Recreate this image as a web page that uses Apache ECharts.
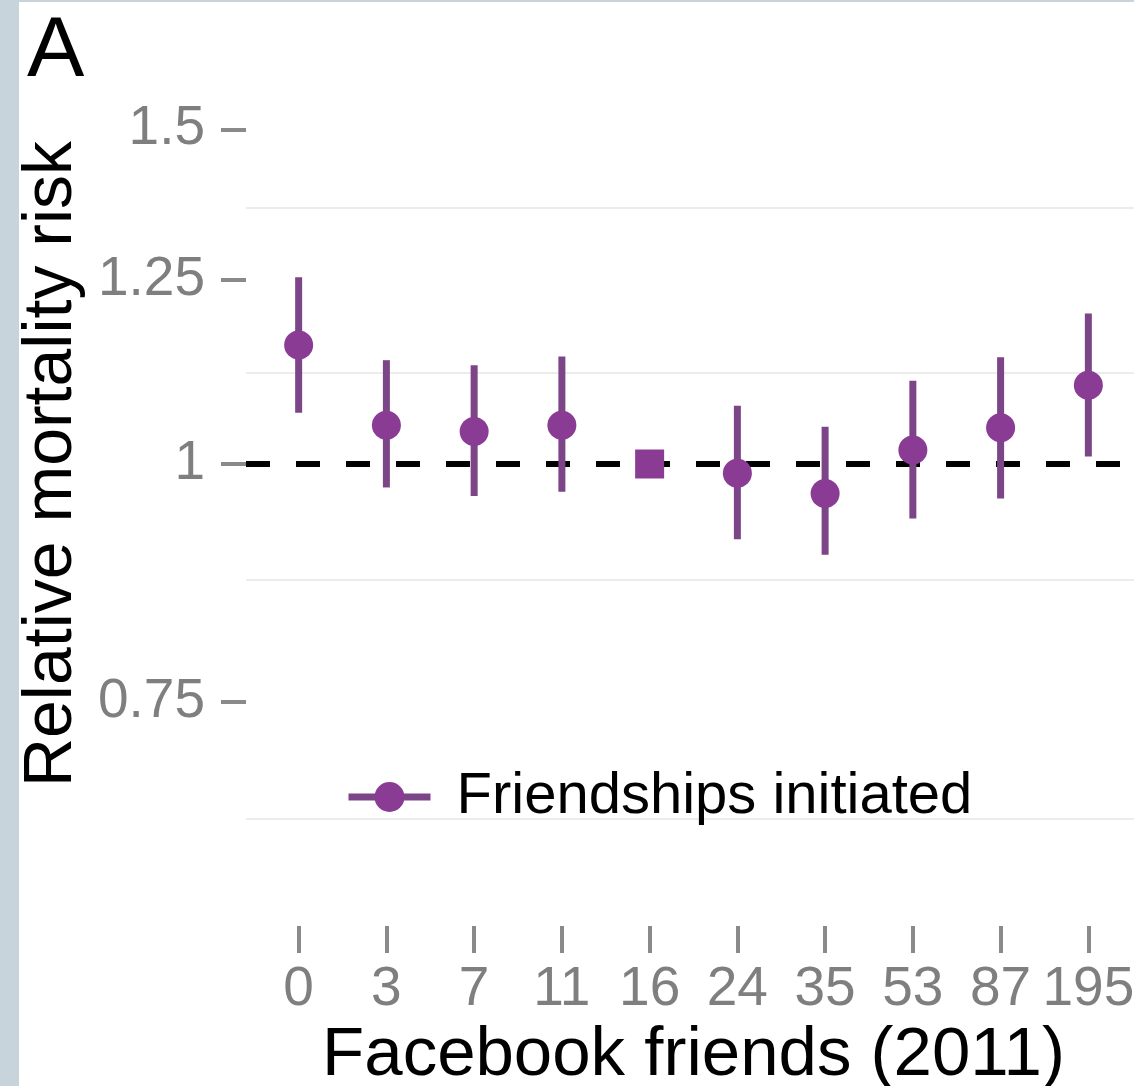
<!DOCTYPE html>
<html>
<head>
<meta charset="utf-8">
<script src="https://cdn.jsdelivr.net/npm/echarts@6/dist/echarts.min.js"></script>
<style>
  html, body { margin: 0; padding: 0; background: #ffffff; }
  #chart { width: 1134px; height: 1086px; }
</style>
</head>
<body>
<div id="chart"></div>
<script>
// Facebook friend-count bins (2011) and relative mortality risk per bin
const friendBins = ['0', '3', '7', '11', '16', '24', '35', '53', '87', '195'];
const riskEstimate = [1.155, 1.048, 1.040, 1.048, 1.0, 0.989, 0.965, 1.017, 1.045, 1.100];
const riskLower = [1.064, 0.972, 0.962, 0.967, null, 0.913, 0.896, 0.936, 0.959, 1.009];
const riskUpper = [1.254, 1.134, 1.127, 1.139, null, 1.073, 1.046, 1.106, 1.138, 1.200];
const referenceBin = '16';
const seriesName = 'Friendships initiated';

// y axis: log scale breaks, faint minor grid values and limits
const yTicks = [0.75, 1, 1.25, 1.5];
const yMinorGrid = [0.652, 0.866, 1.118, 1.369];
const yLimits = [1 / 1.75, 1.75];
const yReference = 1;

const FONT = 'Liberation Sans, Arial, Helvetica, sans-serif';
const POINT_COLOR = '#8a3c94';
const BAR_COLOR = '#7c4587';
const TICK_COLOR = '#8a8a8a';
const LABEL_COLOR = '#7f7f7f';

// risk is plotted on a natural-log scale
const ln = Math.log;
const binPos = friendBins.map((_, i) => i + 1);

const pointData = friendBins.map((bin, i) => {
  const item = { value: [binPos[i], ln(riskEstimate[i])] };
  if (bin === referenceBin) item.symbol = 'rect';
  return item;
});

const intervalData = [];
friendBins.forEach((bin, i) => {
  if (riskLower[i] != null && riskUpper[i] != null) {
    intervalData.push([binPos[i], ln(riskLower[i]), ln(riskUpper[i])]);
  }
});

const chart = echarts.init(document.getElementById('chart'), null, { renderer: 'canvas' });

chart.setOption({
  animation: false,
  backgroundColor: '#ffffff',
  graphic: [
    { type: 'rect', left: 0, top: 0, z: -10, shape: { width: 19, height: 1086 }, style: { fill: '#c8d4dc' } },
    { type: 'rect', left: 0, top: 0, z: -10, shape: { width: 1134, height: 2 }, style: { fill: '#c8d4dc' } }
  ],
  title: {
    text: 'A',
    left: 22,
    top: 4,
    textStyle: { fontFamily: FONT, fontSize: 86, fontWeight: 'normal', color: '#000000' }
  },
  legend: {
    data: [seriesName],
    left: 340,
    top: 762,
    itemWidth: 82,
    itemHeight: 37.5,
    selectedMode: false,
    itemStyle: { color: POINT_COLOR },
    lineStyle: { width: 7, color: BAR_COLOR, opacity: 1, type: 'solid' },
    textStyle: {
      fontFamily: FONT, fontSize: 58, color: '#000000',
      padding: [0, 0, 0, 21], lineHeight: 60
    }
  },
  grid: {
    left: 246,
    right: -7,
    top: 2,
    bottom: 160,
    outerBoundsMode: 'none',
    containLabel: false
  },
  xAxis: {
    type: 'value',
    min: 0.4,
    max: 10.6,
    name: 'Facebook friends (2011)',
    nameLocation: 'middle',
    nameGap: 89,
    nameTextStyle: { fontFamily: FONT, fontSize: 69, color: '#000000' },
    axisLine: { show: false, onZero: false },
    splitLine: { show: false },
    axisTick: {
      show: true,
      length: 27,
      customValues: binPos,
      lineStyle: { color: TICK_COLOR, width: 4 }
    },
    axisLabel: {
      customValues: binPos,
      margin: 36,
      fontFamily: FONT,
      fontSize: 55,
      color: LABEL_COLOR,
      formatter: (v) => friendBins[Math.round(v) - 1]
    }
  },
  yAxis: {
    type: 'value',
    min: ln(yLimits[0]),
    max: ln(yLimits[1]),
    name: 'Relative mortality risk',
    nameLocation: 'middle',
    nameGap: 160,
    nameTextStyle: { fontFamily: FONT, fontSize: 68, color: '#000000' },
    axisLine: { show: false, onZero: false },
    splitLine: { show: false },
    axisTick: {
      show: true,
      length: 25,
      customValues: yTicks.map(ln),
      lineStyle: { color: TICK_COLOR, width: 4 }
    },
    axisLabel: {
      customValues: yTicks.map(ln),
      margin: 41,
      fontFamily: FONT,
      fontSize: 55,
      color: LABEL_COLOR,
      formatter: (v) => {
        const t = yTicks.find((tk) => Math.abs(ln(tk) - v) < 1e-6);
        return t == null ? '' : String(t);
      }
    }
  },
  series: [
    {
      // faint minor grid and the dashed no-difference line
      type: 'line',
      name: 'guides',
      data: [],
      silent: true,
      z: 1,
      markLine: {
        silent: true,
        symbol: ['none', 'none'],
        z: 1,
        label: { show: false },
        emphasis: { disabled: true },
        data: yMinorGrid.map((g) => ({
          yAxis: ln(g),
          lineStyle: { color: '#ececec', width: 2, type: 'solid' }
        })).concat([{
          yAxis: ln(yReference),
          lineStyle: { color: '#000000', width: 6, type: [24, 26] }
        }])
      }
    },
    {
      // confidence intervals
      type: 'custom',
      name: 'interval',
      z: 2,
      silent: true,
      data: intervalData,
      encode: { x: 0, y: [1, 2] },
      renderItem: (params, api) => {
        const x = api.value(0);
        const lo = api.coord([x, api.value(1)]);
        const hi = api.coord([x, api.value(2)]);
        return {
          type: 'line',
          shape: { x1: lo[0], y1: lo[1], x2: hi[0], y2: hi[1] },
          style: { stroke: BAR_COLOR, lineWidth: 7, lineCap: 'butt' }
        };
      }
    },
    {
      // point estimates; the reference bin is drawn as a square
      type: 'line',
      name: seriesName,
      z: 3,
      data: pointData,
      symbol: 'circle',
      symbolSize: 29,
      showSymbol: true,
      itemStyle: { color: POINT_COLOR },
      lineStyle: { width: 0, opacity: 0 },
      emphasis: { disabled: true }
    }
  ]
});
</script>
</body>
</html>
